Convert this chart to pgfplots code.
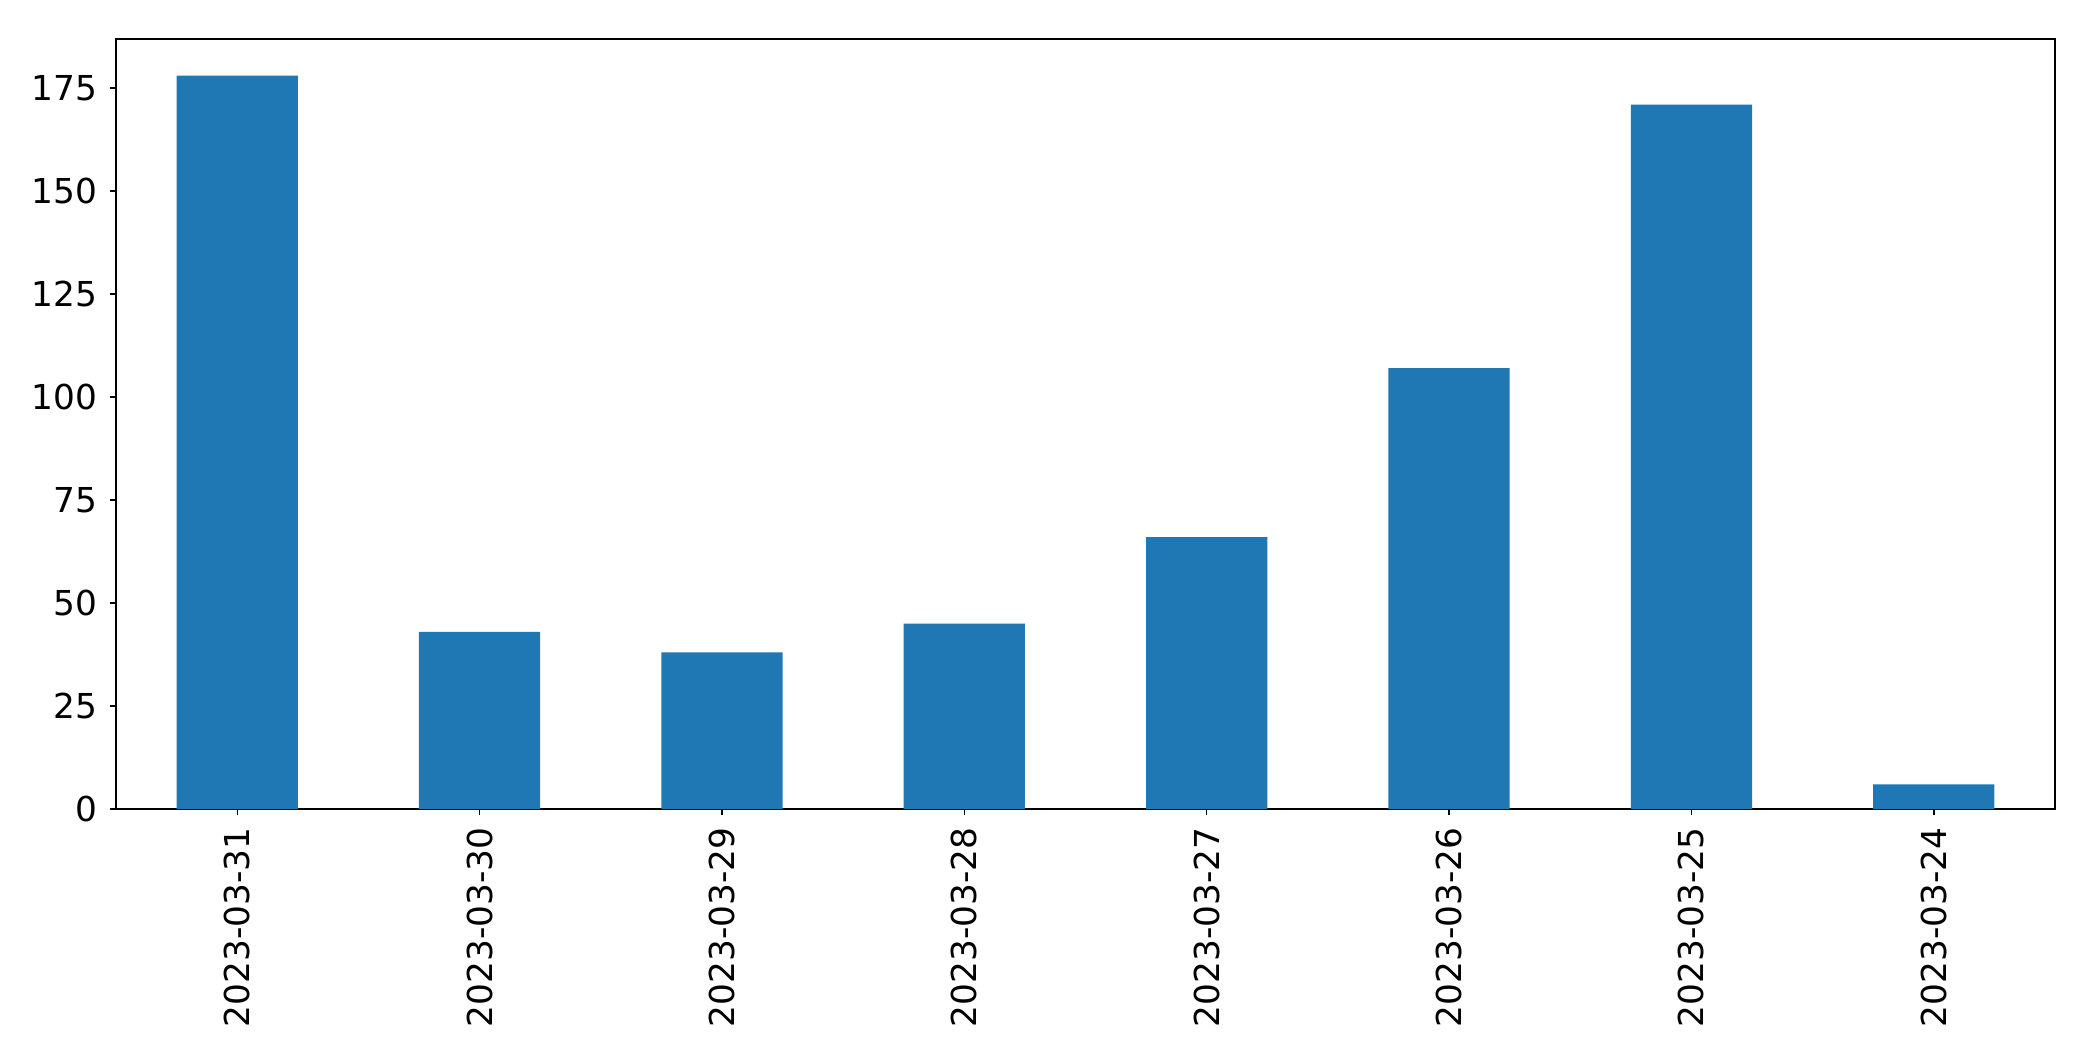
\documentclass[border=0pt]{standalone}
\usepackage{fontspec}
\setmainfont{DejaVu Sans}
\usepackage{pgfplots}
\pgfplotsset{compat=1.18}

\definecolor{mplblue}{HTML}{1F77B4}

\begin{document}
\begin{tikzpicture}
\begin{axis}[
    name=ax,
    scale only axis,
    width=581.7pt, height=231pt,
    ybar, bar width=0.5,
    xmin=-0.5, xmax=7.5,
    ymin=0, ymax=186.9,
    xtick=data,
    xticklabels={2023-03-31,2023-03-30,2023-03-29,2023-03-28,2023-03-27,2023-03-26,2023-03-25,2023-03-24},
    x tick label style={rotate=90, anchor=east, inner sep=0pt},
    ytick={0,25,50,75,100,125,150,175},
    y tick label style={inner sep=0pt},
    xtick pos=bottom, ytick pos=left,
    xticklabel shift=3.6pt,
    yticklabel shift=3.6pt,
    tick align=outside,
    major tick length=1.8pt,
    tick style={black, line width=0.41pt},
    axis line style={line width=0.41pt},
    ticklabel style={font=\fontsize{10.3}{12}\selectfont},
    /pgf/number format/assume math mode=true,
]
\addplot[fill=mplblue, draw=none] coordinates {
    (0,178) (1,43) (2,38) (3,45) (4,66) (5,107) (6,171) (7,6)
};
\end{axis}
\path (ax.south west) ++(-34.8pt,-75.6pt) coordinate (bl);
\path (ax.north east) ++(11.4pt,11.7pt) coordinate (tr);
\path[use as bounding box] (bl) rectangle (tr);
\end{tikzpicture}
\end{document}
